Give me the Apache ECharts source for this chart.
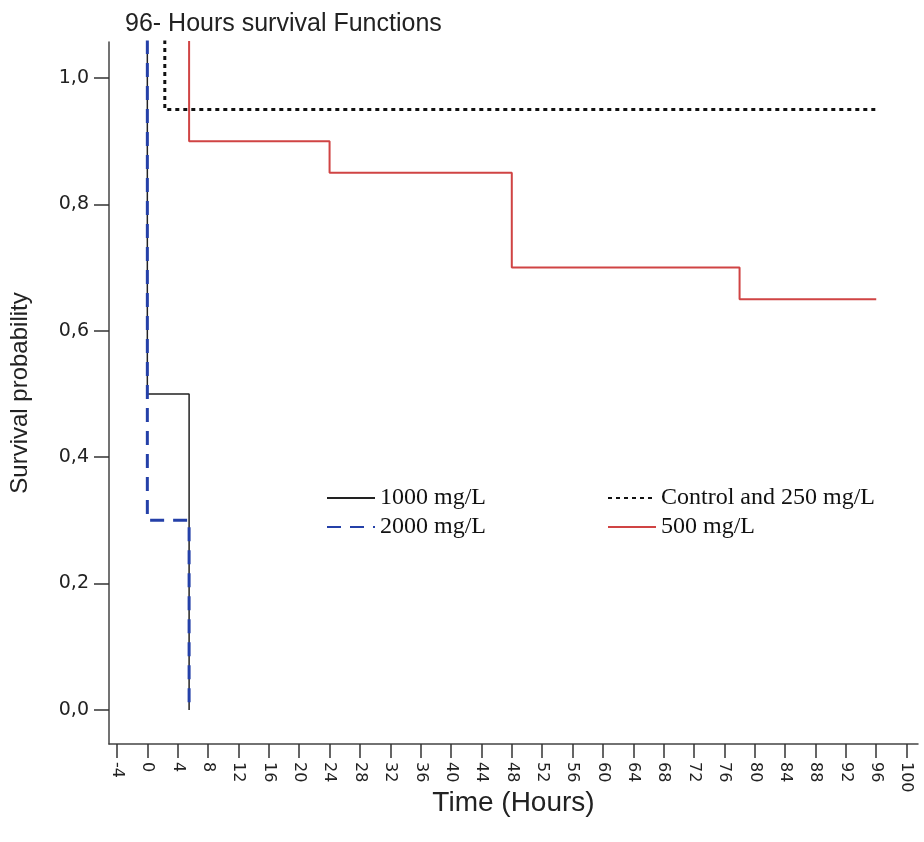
<!DOCTYPE html>
<html>
<head>
<meta charset="utf-8">
<script src="https://cdn.jsdelivr.net/npm/echarts@6/dist/echarts.min.js"></script>
<style>
  html, body { margin: 0; padding: 0; background: #fff; }
  #main { width: 924px; height: 842px; }
</style>
</head>
<body>
<div id="main"></div>
<script>
// tick labels
var xTicks = [-4, 0, 4, 8, 12, 16, 20, 24, 28, 32, 36, 40, 44, 48, 52, 56, 60, 64, 68, 72, 76, 80, 84, 88, 92, 96, 100];
var yTicks = [0, 0.2, 0.4, 0.6, 0.8, 1.0];

// step curves as [time, survival] corners (top start is clipped by the axis)
var ctrlData = [[2.3, 1.06], [2.3, 0.95], [96, 0.95]];
var d500Data = [[5.5, 1.06], [5.5, 0.9], [24, 0.9], [24, 0.85], [48, 0.85], [48, 0.7], [78, 0.7], [78, 0.65], [96, 0.65]];
var d1000Data = [[0, 1.06], [0, 0.5], [5.5, 0.5], [5.5, 0]];
var d2000Data = [[0, 1.06], [0, 0.3], [5.5, 0.3], [5.5, 0]];

var myChart = echarts.init(document.getElementById('main'));
var sansFont = 'Liberation Sans, Arial, sans-serif';
var tickFont = 'DejaVu Sans, Verdana, sans-serif';
var serifFont = 'Liberation Serif, Times New Roman, serif';

var legendBase = {
    orient: 'vertical',
    top: 481,
    itemWidth: 48,
    itemHeight: 14,
    itemGap: 5,
    itemStyle: { opacity: 0 },
    textStyle: { fontFamily: serifFont, fontSize: 24, color: '#111' }
};

var option = {
    backgroundColor: '#fff',
    animation: false,
    title: {
        text: '96- Hours survival Functions',
        left: 120,
        top: 7,
        textStyle: { fontFamily: sansFont, fontSize: 25, fontWeight: 'normal', color: '#222' }
    },
    legend: [
        Object.assign({}, legendBase, { left: 321, data: ['1000 mg/L', '2000 mg/L'] }),
        Object.assign({}, legendBase, { left: 602, data: ['Control and 250 mg/L', '500 mg/L'] })
    ],
    grid: { left: 106, right: 6, top: 42, bottom: 98 },
    xAxis: {
        type: 'value',
        min: -5.05,
        max: 101.5,
        name: 'Time (Hours)',
        nameLocation: 'middle',
        nameGap: 45,
        nameMoveOverlap: false,
        nameTextStyle: { fontFamily: sansFont, fontSize: 28, color: '#222' },
        splitLine: { show: false },
        axisLine: { onZero: false, lineStyle: { color: '#444', width: 1.5 } },
        axisTick: { length: 14, customValues: xTicks, lineStyle: { color: '#333', width: 1.5 } },
        axisLabel: {
            customValues: xTicks,
            rotate: -90,
            margin: 18,
            fontFamily: tickFont,
            fontSize: 16,
            color: '#222'
        }
    },
    yAxis: {
        type: 'value',
        min: -0.054,
        max: 1.057,
        name: 'Survival probability',
        nameLocation: 'middle',
        nameGap: 77,
        nameTextStyle: { fontFamily: sansFont, fontSize: 24, color: '#222' },
        splitLine: { show: false },
        axisLine: { show: true, onZero: false, lineStyle: { color: '#444', width: 1.5 } },
        axisTick: { show: true, length: 15, customValues: yTicks, lineStyle: { color: '#333', width: 1.5 } },
        axisLabel: {
            customValues: yTicks,
            margin: 20,
            fontFamily: tickFont,
            fontSize: 19,
            color: '#222',
            formatter: function (v) { return v.toFixed(1).replace('.', ','); }
        }
    },
    series: [{
        name: '1000 mg/L',
        type: 'line',
        symbol: 'none',
        data: d1000Data,
        lineStyle: { color: '#222', width: 1.5 },
        itemStyle: { color: '#222' }
    }, {
        name: '2000 mg/L',
        type: 'line',
        symbol: 'none',
        data: d2000Data,
        lineStyle: { color: '#2440a8', width: 3, type: [14, 9] },
        itemStyle: { color: '#2440a8' }
    }, {
        name: 'Control and 250 mg/L',
        type: 'line',
        symbol: 'none',
        data: ctrlData,
        lineStyle: { color: '#111', width: 3, type: [4, 4] },
        itemStyle: { color: '#111' }
    }, {
        name: '500 mg/L',
        type: 'line',
        symbol: 'none',
        data: d500Data,
        lineStyle: { color: '#d04444', width: 2 },
        itemStyle: { color: '#d04444' }
    }]
};
myChart.setOption(option);
</script>
</body>
</html>
